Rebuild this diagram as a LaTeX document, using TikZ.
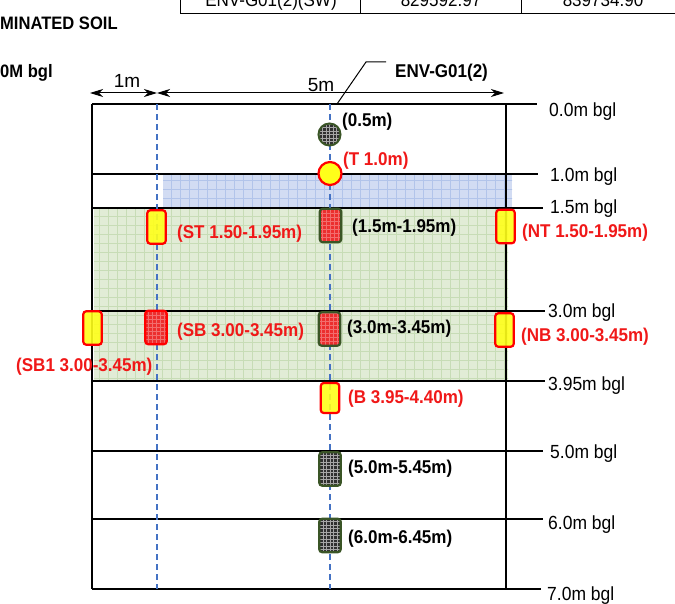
\documentclass[tikz,border=0pt]{standalone}
\usepackage{fontspec}
\setmainfont{Liberation Sans}[FakeStretch=0.92]
\newfontfamily\widefont{Liberation Sans}
\usetikzlibrary{arrows.meta}
\definecolor{lblred}{HTML}{F01818}
\definecolor{sred}{HTML}{FF0000}
\definecolor{sampred}{HTML}{EC2E2E}
\definecolor{dgreen}{HTML}{3A5526}
\definecolor{sampgrey}{HTML}{303030}
\definecolor{dashblue}{HTML}{4472C4}
\definecolor{bluefill}{HTML}{D2DCF3}
\definecolor{bluegrid}{HTML}{B2C4EA}
\definecolor{greenfill}{HTML}{E1ECD6}
\definecolor{greengrid}{HTML}{C7DCB6}
\definecolor{ysamp}{HTML}{FFFF1A}
\begin{document}
\begin{tikzpicture}[x=1pt,y=-1pt,
  lbl/.style={font=\fontsize{18.5}{20}\selectfont\bfseries, inner sep=0pt, anchor=base west},
  lblr/.style={lbl, text=lblred},
  depth/.style={font=\fontsize{19}{21}\selectfont, inner sep=0pt, anchor=base west},
  tabtxt/.style={font=\fontsize{18.5}{20}\selectfont, inner sep=0pt, anchor=base},
  thinline/.style={line width=1.1pt, black},
  dashline/.style={dashblue, line width=1.2pt, dash pattern=on 6pt off 4pt},
  dimarrow/.style={line width=1pt, {Stealth[length=13pt,width=8pt,inset=4pt]}-{Stealth[length=13pt,width=8pt,inset=4pt]}},
  yrect/.style={draw=sred, line width=2.2pt, fill=ysamp, rounded corners=3pt, minimum width=18.5pt, minimum height=33.5pt, inner sep=0pt, fill opacity=0.9},
  rrect/.style={draw=dgreen, line width=2.2pt, fill=sampred, rounded corners=3pt, minimum width=21.5pt, minimum height=33.5pt, inner sep=0pt,
    path picture={\draw[white!30!sampred, line width=0.4pt, step=4pt] (path picture bounding box.south west) grid (path picture bounding box.north east);}},
  rrectr/.style={rrect, draw=sred},
  grect/.style={draw=dgreen, line width=2.2pt, fill=sampgrey, rounded corners=3pt, minimum width=21.5pt, minimum height=33.5pt, inner sep=0pt,
    path picture={\draw[gray!70, line width=0.5pt, step=3.5pt] (path picture bounding box.south west) grid (path picture bounding box.north east);}},
  gcirc/.style={circle, draw=dgreen, line width=2pt, fill=sampgrey, minimum size=22pt, inner sep=0pt,
    path picture={\draw[gray!70, line width=0.5pt, step=3.5pt] (path picture bounding box.south west) grid (path picture bounding box.north east);}},
  ycirc/.style={circle, draw=sred, line width=2.2pt, fill=ysamp, minimum size=23pt, inner sep=0pt}
]
\useasboundingbox (0,0) rectangle (675,604);
\clip (0,0) rectangle (675,604);

% top table fragment
\coordinate (T0) at (180,0); \coordinate (T0b) at (180,14);
\coordinate (T1) at (360,0); \coordinate (T1b) at (360,14);
\coordinate (T2) at (521,0); \coordinate (T2b) at (521,14);
\coordinate (T3b) at (676,14);
\draw[line width=1pt] (T0) -- (T0b) -- (T3b);
\draw[line width=1pt] (T1) -- (T1b);
\draw[line width=1pt] (T2) -- (T2b);
\node[tabtxt] (tc1) at (271,7) {ENV-G01(2)(SW)};
\node[tabtxt] (tc2) at (441,7) {829592.97};
\node[tabtxt] (tc3) at (603,7) {839734.90};

% left fragment texts
\node[lbl, font=\fontsize{18}{20}\selectfont\bfseries] (title) at (0,30) {MINATED SOIL};
\node[lbl, font=\fontsize{18}{20}\selectfont\bfseries] (dep) at (0,78) {0M bgl};

% shaded layers
\begin{scope}
\clip (163,175) rectangle (512,208);
\fill[bluefill] (163,175) rectangle (512,208);
\draw[bluegrid, line width=0.6pt, step=9pt] (160,170) grid (515,212);
\end{scope}
\begin{scope}
\clip (94,209) rectangle (508,381);
\fill[greenfill] (94,209) rectangle (508,381);
\draw[greengrid, line width=0.6pt, step=9pt] (90,205) grid (512,385);
\end{scope}

% depth lines
\coordinate (L0) at (92,104);  \coordinate (R0) at (537,104);
\coordinate (L1) at (92,174);  \coordinate (R1) at (538,174);
\coordinate (L2) at (92,208);  \coordinate (R2) at (543,208);
\coordinate (L3) at (92,311);  \coordinate (R3) at (545,311);
\coordinate (L4) at (92,381);  \coordinate (R4) at (545,381);
\coordinate (L5) at (92,451);  \coordinate (R5) at (543,451);
\coordinate (L6) at (92,519);  \coordinate (R6) at (543,519);
\coordinate (L7) at (92,589);  \coordinate (R7) at (541,589);
\foreach \i in {0,...,7} {\draw[thinline] (L\i) -- (R\i);}

\node[depth] (d0) at (549,117) {0.0m bgl};
\node[depth] (d1) at (550,182) {1.0m bgl};
\node[depth] (d2) at (550,214) {1.5m bgl};
\node[depth] (d3) at (548,317) {3.0m bgl};
\node[depth] (d4) at (548,390) {3.95m bgl};
\node[depth] (d5) at (550,458) {5.0m bgl};
\node[depth] (d6) at (548,529) {6.0m bgl};
\node[depth] (d7) at (547,600) {7.0m bgl};

% box sides
\coordinate (BL) at (92,104); \coordinate (BLb) at (92,589);
\coordinate (BR) at (506,104); \coordinate (BRb) at (506,589);
\draw[thinline] (BL) -- (BLb);
\draw[thinline] (BR) -- (BRb);

% dashed centre lines
\coordinate (D1t) at (157,104); \coordinate (D1b) at (157,589);
\coordinate (D2t) at (330,104); \coordinate (D2b) at (330,589);
\draw[dashline] (D1t) -- (D1b);
\draw[dashline] (D2t) -- (D2b);

% dimension arrows
\coordinate (A0) at (90,93); \coordinate (A1) at (157,93); \coordinate (A2) at (504,93);
\draw[dimarrow] (A0) -- (A1);
\draw[dimarrow] (A1) -- (A2);
\node[inner sep=0pt, anchor=base, font=\widefont\fontsize{19}{21}\selectfont] (m1) at (127,88) {1m};
\node[inner sep=0pt, anchor=base, font=\widefont\fontsize{19}{21}\selectfont] (m5) at (321,92) {5m};

% borehole leader
\coordinate (E0) at (337,104); \coordinate (E1) at (366,62); \coordinate (E2) at (386,62);
\draw[line width=1pt] (E0) -- (E1) -- (E2);
\node[lbl] (env) at (395,78) {ENV-G01(2)};

% samples
\node[gcirc] (s05) at (329.5,134.5) {};
\node[ycirc] (sT) at (330,173.5) {};
\node[yrect] (sST) at (156.5,227) {};
\node[rrect] (s15) at (330.5,225.5) {};
\node[yrect] (sNT) at (505.5,226.5) {};
\node[yrect] (sSB1) at (92.5,328) {};
\node[rrectr] (sSB) at (156,327.5) {};
\node[rrect] (s30) at (329.5,329) {};
\node[yrect] (sNB) at (504.5,330) {};
\node[yrect, minimum height=30pt] (sB) at (330,398) {};
\node[grect] (s50) at (330,469) {};
\node[grect] (s60) at (330,535.5) {};

% labels
\node[lbl] (l05) at (342,127) {(0.5m)};
\node[lblr] (lT) at (343,166) {(T 1.0m)};
\node[lblr] (lST) at (177,239) {(ST 1.50-1.95m)};
\node[lbl] (l15) at (352,233) {(1.5m-1.95m)};
\node[lblr] (lNT) at (522,238) {(NT 1.50-1.95m)};
\node[lblr] (lSB1) at (16,371) {(SB1 3.00-3.45m)};
\node[lblr] (lSB) at (177,336) {(SB 3.00-3.45m)};
\node[lbl] (l30) at (347,333) {(3.0m-3.45m)};
\node[lblr] (lNB) at (521,341) {(NB 3.00-3.45m)};
\node[lblr] (lB) at (348,403) {(B 3.95-4.40m)};
\node[lbl] (l50) at (348,473) {(5.0m-5.45m)};
\node[lbl] (l60) at (348,543) {(6.0m-6.45m)};
\end{tikzpicture}
\end{document}
